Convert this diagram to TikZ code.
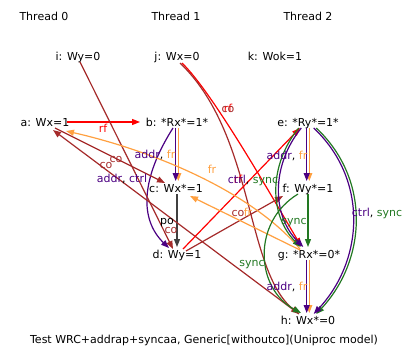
\documentclass[tikz,border=0pt]{standalone}
\usepackage{fontspec}
\setmainfont{DejaVu Sans}
\usetikzlibrary{arrows.meta}

\definecolor{rfcol}{RGB}{255,0,0}
\definecolor{cocol}{RGB}{165,42,42}
\definecolor{frcol}{RGB}{255,160,64}
\definecolor{addrcol}{RGB}{75,0,130}
\definecolor{synccol}{RGB}{34,120,34}

\begin{document}
\begin{tikzpicture}[x=1pt,y=-1pt,
	every node/.style={font=\fontsize{11}{13}\selectfont,inner sep=0pt,text height=8pt,text depth=0pt},
	rel/.style={line width=1.2pt,-{Triangle[length=8pt,width=6pt]}},
	lft/.style={transform canvas={xshift=-1.3pt}},
	rgt/.style={transform canvas={xshift=1.3pt}}]
	\useasboundingbox (0,0) rectangle (412,361);

	% threads
	\node (t0) at (44,17) {Thread 0};
	\node (t1) at (176,17) {Thread 1};
	\node (t2) at (308,17) {Thread 2};

	% events
	\node (i) at (78,56) {i: Wy=0};
	\node (j) at (177,56) {j: Wx=0};
	\node (k) at (275,56) {k: Wok=1};
	\node (a) at (45,122) {a: Wx=1};
	\node (b) at (177,122) {b: *Rx*=1*};
	\node (c) at (176,188) {c: Wx*=1};
	\node (d) at (177,254) {d: Wy=1};
	\node (e) at (308,122) {e: *Ry*=1*};
	\node (f) at (308,188) {f: Wy*=1};
	\node (g) at (309,254) {g: *Rx*=0*};
	\node (h) at (308,320) {h: Wx*=0};

	% thread 0 / 1
	\draw[rel,rfcol] ([shift={(22,0)}]a.center) -- ([shift={(-37,0)}]b.center);
	\draw[rel,frcol,rgt] ([shift={(0,6)}]b.center) -- ([shift={(1,-7)}]c.center);
	\draw[rel,addrcol,lft] ([shift={(0,6)}]b.center) -- ([shift={(1,-7)}]c.center);
	\draw[rel,addrcol] ([shift={(-4,6)}]b.center) .. controls (140,180) and (140,220) .. ([shift={(-8,-6)}]d.center);
	\draw[rel,black!75] ([shift={(1,6)}]c.center) -- ([shift={(0,-7)}]d.center);
	\draw[rel,cocol] ([shift={(2,6)}]i.center) -- ([shift={(-4,-5)}]d.center);
	\draw[rel,cocol] ([shift={(10,6)}]a.center) -- ([shift={(-11,-5)}]c.center);
	\draw[rel,cocol] ([shift={(-9,-6)}]h.center) -- ([shift={(8,8)}]a.center);

	% from init
	\draw[rel,rfcol] ([shift={(5,7)}]j.center) .. controls (212,92) and (268,190) .. ([shift={(-8,-8)}]g.center);
	\draw[rel,cocol] ([shift={(3,7)}]j.center) .. controls (255,135) and (245,270) .. ([shift={(-9,-6)}]h.center);

	% across threads
	\draw[rel,rfcol] ([shift={(6,-5)}]d.center) -- ([shift={(-8,6)}]e.center);
	\draw[rel,cocol] ([shift={(9,-3)}]d.center) -- ([shift={(-25,8)}]f.center);
	\draw[rel,frcol] ([shift={(-9,-4)}]g.center) -- ([shift={(14,8)}]c.center);
	\draw[rel,frcol] ([shift={(-9,-5)}]g.center) .. controls (250,190) and (150,150) .. ([shift={(21,9)}]a.center);

	% thread 2
	\draw[rel,frcol,rgt] ([shift={(0,6)}]e.center) -- ([shift={(0,-7)}]f.center);
	\draw[rel,addrcol,lft] ([shift={(0,6)}]e.center) -- ([shift={(0,-7)}]f.center);
	\draw[rel,synccol] ([shift={(0,6)}]f.center) -- ([shift={(-1,-7)}]g.center);
	\draw[rel,frcol,rgt] ([shift={(-1,6)}]g.center) -- ([shift={(0,-7)}]h.center);
	\draw[rel,addrcol,lft] ([shift={(-1,6)}]g.center) -- ([shift={(0,-7)}]h.center);
	\draw[rel,synccol,lft] ([shift={(-8,6)}]e.center) .. controls (270,165) and (270,215) .. ([shift={(-7,-7)}]g.center);
	\draw[rel,addrcol,rgt] ([shift={(-8,6)}]e.center) .. controls (270,165) and (270,215) .. ([shift={(-7,-7)}]g.center);
	\draw[rel,synccol,rgt] ([shift={(7,6)}]e.center) .. controls (370,180) and (365,260) .. ([shift={(7,-6)}]h.center);
	\draw[rel,addrcol,lft] ([shift={(7,6)}]e.center) .. controls (370,180) and (365,260) .. ([shift={(7,-6)}]h.center);
	\draw[rel,synccol] ([shift={(-10,6)}]f.center) .. controls (252,222) and (255,288) .. ([shift={(-7,-7)}]h.center);

	% labels
	\node[text=rfcol] (lab) at (103,128) {rf};
	\node (lbc) at (155,154) {\textcolor{addrcol}{addr}, \textcolor{frcol}{fr}};
	\node (lbd) at (122,178) {\textcolor{addrcol}{addr}, \textcolor{addrcol}{ctrl}};
	\node (lcd) at (167,220) {po};
	\node[text=cocol] (lid) at (171,229) {co};
	\node[text=cocol] (lac) at (116,158) {co};
	\node[text=cocol] (lha) at (106,164) {co};
	\node[text=rfcol] (ljg) at (228,108) {rf};
	\node[text=cocol] (ljh) at (228,108) {co};
	\node[text=rfcol] (lde) at (238,179) {rf};
	\node[text=cocol] (ldf) at (238,212) {co};
	\node[text=frcol] (lgc) at (248,212) {fr};
	\node[text=frcol] (lga) at (212,169) {fr};
	\node (lef) at (287,155) {\textcolor{addrcol}{addr}, \textcolor{frcol}{fr}};
	\node[text=synccol] (lfg) at (294,220) {sync};
	\node (lgh) at (287,286) {\textcolor{addrcol}{addr}, \textcolor{frcol}{fr}};
	\node (leg) at (253,179) {\textcolor{addrcol}{ctrl}, \textcolor{synccol}{sync}};
	\node (leh) at (377,212) {\textcolor{addrcol}{ctrl}, \textcolor{synccol}{sync}};
	\node[text=synccol] (lfh) at (252,262) {sync};

	\node (cap) at (204,339) {Test WRC+addrap+syncaa, Generic[withoutco](Uniproc model)};
\end{tikzpicture}
\end{document}
